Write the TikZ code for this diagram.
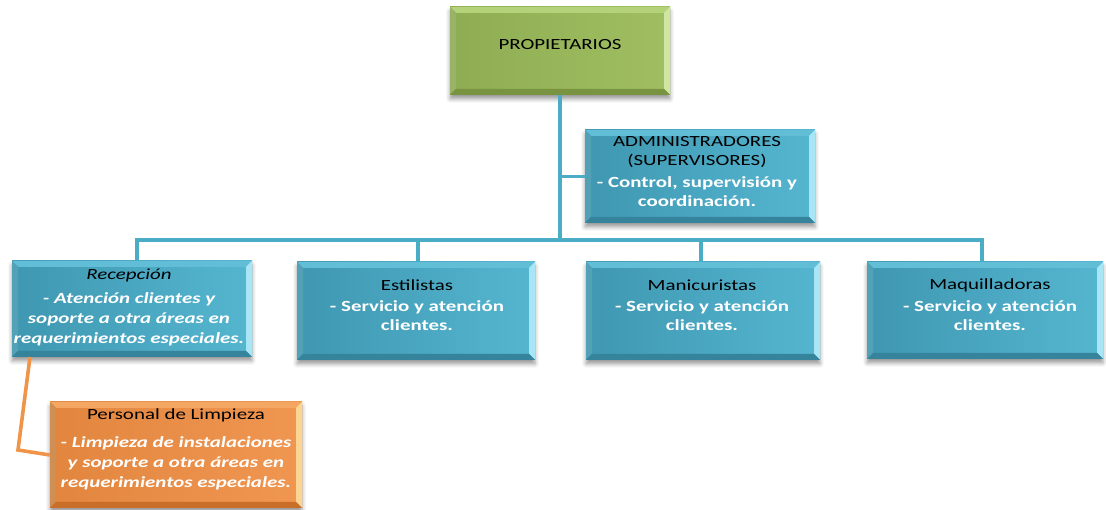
\documentclass[tikz,border=0pt]{standalone}
\usepackage{fontspec}
\setmainfont[FakeStretch=1.35]{Carlito}
\usetikzlibrary{shadows.blur}

\definecolor{grfill}{HTML}{9BBB59}
\definecolor{grlight}{HTML}{B3D27A}
\definecolor{grhigh}{HTML}{CFE6A0}
\definecolor{grdark}{HTML}{789440}
\definecolor{blleft}{HTML}{3F97B1}
\definecolor{blright}{HTML}{55B6D0}
\definecolor{bllight}{HTML}{62BDD6}
\definecolor{blhigh}{HTML}{A8E6F5}
\definecolor{bldark}{HTML}{36849C}
\definecolor{orfill}{HTML}{EE8D42}
\definecolor{orlight}{HTML}{F4A763}
\definecolor{orhigh}{HTML}{FCD592}
\definecolor{ordark}{HTML}{C96E28}
\definecolor{linkblue}{HTML}{4BACC6}
\definecolor{linkorange}{HTML}{F0944A}

% white bold body line
\newcommand\wtxt[1]{{\bfseries\color{white}#1}}
\newcommand\witx[1]{{\bfseries\itshape\color{white}#1}}

% bevelled frame inside a box: light (top/left), highlight (right), dark (bottom)
\newcommand\bevelframe[4]{%
  \fill[#2] (#1.north west) -- (#1.north east) -- ([shift={(-6,-6)}]#1.north east)
        -- ([shift={(6,-6)}]#1.north west) -- cycle;
  \fill[#2!85!black] (#1.north west) -- ([shift={(6,-6)}]#1.north west)
        -- ([shift={(6,6)}]#1.south west) -- (#1.south west) -- cycle;
  \fill[#3] (#1.north east) -- (#1.south east) -- ([shift={(-6,6)}]#1.south east)
        -- ([shift={(-6,-6)}]#1.north east) -- cycle;
  \fill[#4] (#1.south west) -- (#1.south east) -- ([shift={(-6,6)}]#1.south east)
        -- ([shift={(6,6)}]#1.south west) -- cycle;
}

\tikzset{
  x=1pt, y=1pt,
  bevel/.style n args={3}{path picture={\bevelframe{path picture bounding box}{#1}{#2}{#3}}},
  orgbox/.style={rectangle, inner sep=0pt,
    blur shadow={shadow xshift=0pt, shadow yshift=-4pt, shadow blur radius=4pt, shadow opacity=40}},
  bluebox/.style={orgbox, left color=blleft, right color=blright,
    bevel={bllight}{blhigh}{bldark}},
  greenbox/.style={orgbox, left color=grfill!92!black, right color=grfill!95!white,
    bevel={grlight}{grhigh}{grdark}},
  orangebox/.style={orgbox, left color=orfill!95!black, right color=orfill!92!white,
    bevel={orlight}{orhigh}{ordark}},
  ltext/.style={align=center, inner sep=0pt, text=black,
    font=\fontsize{15.5}{18.7}\selectfont},
  ltextwide/.style={ltext, font=\fontsize{15.5}{20}\selectfont},
  link/.style={draw=linkblue, line width=3.6pt},
  olink/.style={draw=linkorange, line width=3.6pt},
}

\begin{document}
\begin{tikzpicture}
\useasboundingbox (0,0) rectangle (1106,510);

% boxes
\node[greenbox, minimum width=220, minimum height=88,
  label={[ltext, yshift=6]center:PROPIETARIOS}] (prop) at (560,459) {};
\node[bluebox, minimum width=230, minimum height=93,
  label={[ltext, xshift=-3, yshift=5]center:{ADMINISTRADORES\\(SUPERVISORES)\\[3pt]\wtxt{- Control, supervisión y}\\\wtxt{coordinación.}}}] (admin) at (700,333.5) {};
\node[bluebox, minimum width=240, minimum height=96,
  label={[ltextwide, xshift=-3, yshift=2]center:{\itshape Recepción\\[4pt]\witx{- Atención clientes y}\\\witx{soporte a otra áreas en}\\\witx{requerimientos especiales.}}}] (recep) at (132,201) {};
\node[bluebox, minimum width=238, minimum height=98,
  label={[ltext, xshift=1, yshift=6]center:{Estilistas\\[3pt]\wtxt{- Servicio y atención}\\\wtxt{clientes.}}}] (estil) at (416,199) {};
\node[bluebox, minimum width=234, minimum height=98,
  label={[ltext, xshift=-1, yshift=6]center:{Manicuristas\\[3pt]\wtxt{- Servicio y atención}\\\wtxt{clientes.}}}] (mani) at (703,199) {};
\node[bluebox, minimum width=236, minimum height=97,
  label={[ltext, xshift=5, yshift=6]center:{Maquilladoras\\[3pt]\wtxt{- Servicio y atención}\\\wtxt{clientes.}}}] (maqu) at (985,199.5) {};
\node[orangebox, minimum width=252, minimum height=106,
  label={[ltextwide, xshift=0, yshift=5.5]center:{Personal de Limpieza\\[8pt]\witx{- Limpieza de instalaciones}\\\witx{y soporte a otra áreas en}\\\witx{requerimientos especiales.}}}] (limp) at (176,55) {};

% connectors
\coordinate (bus) at (560,270);
\coordinate (elbow) at (18,60);
\draw[link] (prop.south) -- (bus);
\draw[link] (prop.south |- admin.west) -- (admin.west);
\draw[link] ([xshift=5]recep.north) |- (bus) -| ([xshift=-3]maqu.north);
\draw[link] ([xshift=2]estil.north) -- ([xshift=2]estil.north |- bus);
\draw[link] ([xshift=-2]mani.north) -- ([xshift=-2]mani.north |- bus);
\draw[olink, line join=miter] ([xshift=-102]recep.south) -- (elbow) -- (limp.west);
\end{tikzpicture}
\end{document}
